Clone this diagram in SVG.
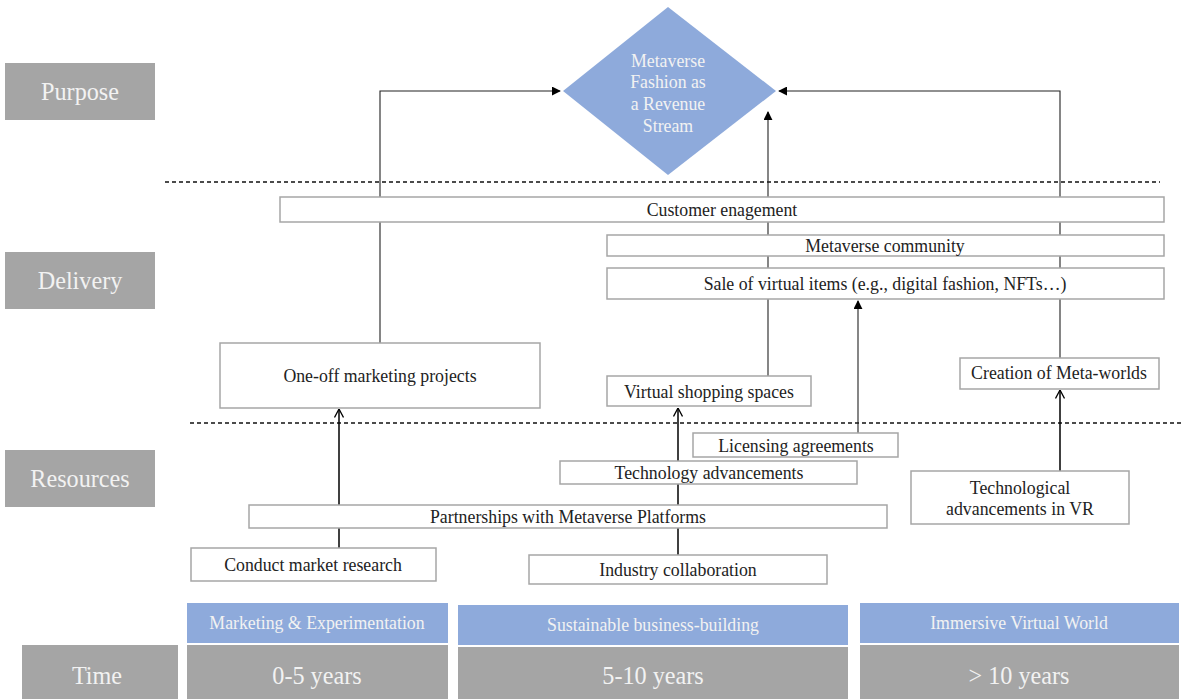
<svg xmlns="http://www.w3.org/2000/svg" width="1182" height="699" viewBox="0 0 1182 699" font-family="'Liberation Serif', 'Times New Roman', 'DejaVu Serif', serif">
<defs>
<marker id="fill" viewBox="0 0 10 10" refX="9" refY="5" markerWidth="9" markerHeight="9" markerUnits="userSpaceOnUse" orient="auto"><path d="M0,0 L10,5 L0,10 z" fill="#000"/></marker>
<marker id="open" viewBox="0 0 10 10" refX="9.5" refY="5" markerWidth="10" markerHeight="10" markerUnits="userSpaceOnUse" orient="auto"><path d="M1,0.5 L9.5,5 L1,9.5" fill="none" stroke="#000" stroke-width="1.3"/></marker>
</defs>
<style>
text{font-family:'Liberation Serif','Times New Roman','DejaVu Serif',serif;text-anchor:middle}
.box{fill:#fff;stroke:#a6a6a6;stroke-width:1.5}
.bt{font-size:17.8px;fill:#222}
.side{fill:#a5a5a5}
.st{font-size:24.2px;fill:#f2f2f2}
.hdr{fill:#8eaadb}
.ht{font-size:17.8px;fill:#f2f2f2}
.dash{stroke:#111;stroke-width:1.3;stroke-dasharray:4,3;fill:none}
.c1{stroke:#222;stroke-width:1.1;fill:none}
.c2{stroke:#000;stroke-width:1.5;fill:none}
</style>
<rect width="1182" height="699" fill="#fff"/>

<g id="rows">
<g id="purpose"><rect class="side" x="5" y="63" width="150" height="57"/><text class="st" x="80" y="100">Purpose</text></g>
<g id="delivery"><rect class="side" x="5" y="252" width="150" height="57"/><text class="st" x="80" y="289">Delivery</text></g>
<g id="resources"><rect class="side" x="5" y="450" width="150" height="57"/><text class="st" x="80" y="487">Resources</text></g>
<g id="time"><rect class="side" x="22" y="645" width="156" height="54"/><text class="st" x="97" y="684">Time</text></g>
</g>

<g id="dividers">
<line class="dash" x1="165" y1="182" x2="1160" y2="182"/>
<line class="dash" x1="190" y1="423" x2="1182" y2="423"/>
</g>

<g id="connectors">
<polyline class="c1" points="380,343 380,91 560,91" marker-end="url(#fill)"/>
<polyline class="c1" points="1060,358 1060,91 779,91" marker-end="url(#fill)"/>
<line class="c1" x1="768" y1="376" x2="768" y2="112" marker-end="url(#fill)"/>
<line class="c1" x1="858" y1="433" x2="858" y2="301" marker-end="url(#fill)"/>
<line class="c2" x1="339" y1="548" x2="339" y2="409" marker-end="url(#open)"/>
<line class="c2" x1="678" y1="555" x2="678" y2="408" marker-end="url(#open)"/>
<line class="c2" x1="1060" y1="471" x2="1060" y2="390" marker-end="url(#open)"/>
</g>

<g id="goal">
<polygon points="668,7 776,91 668,175 563,91" fill="#8eaadb"/>
<text class="ht" x="668" y="67">Metaverse</text>
<text class="ht" x="668" y="88">Fashion as</text>
<text class="ht" x="668" y="110">a Revenue</text>
<text class="ht" x="668" y="132">Stream</text>
</g>

<g id="customer-engagement"><rect class="box" x="280" y="197" width="884" height="25"/>
<text class="bt" x="722" y="216">Customer enagement</text></g>
<g id="metaverse-community"><rect class="box" x="607" y="235" width="557" height="21"/>
<text class="bt" x="885" y="252">Metaverse community</text></g>
<g id="sale-virtual-items"><rect class="box" x="607" y="268" width="557" height="31"/>
<text class="bt" x="885" y="290">Sale of virtual items (e.g., digital fashion, NFTs…)</text></g>
<g id="one-off"><rect class="box" x="220" y="343" width="320" height="65"/>
<text class="bt" x="380" y="382">One-off marketing projects</text></g>
<g id="virtual-shopping"><rect class="box" x="607" y="376" width="204" height="30"/>
<text class="bt" x="709" y="398">Virtual shopping spaces</text></g>
<g id="meta-worlds"><rect class="box" x="960" y="358" width="199" height="31"/>
<text class="bt" x="1059" y="379">Creation of Meta-worlds</text></g>

<g id="licensing"><rect class="box" x="693" y="433" width="205" height="24"/>
<text class="bt" x="796" y="452">Licensing agreements</text></g>
<g id="tech-advancements"><rect class="box" x="560" y="461" width="297" height="23"/>
<text class="bt" x="709" y="479">Technology advancements</text></g>
<g id="partnerships"><rect class="box" x="249" y="505" width="638" height="23"/>
<text class="bt" x="568" y="523">Partnerships with Metaverse Platforms</text></g>
<g id="market-research"><rect class="box" x="191" y="548" width="245" height="33"/>
<text class="bt" x="313" y="571">Conduct market research</text></g>
<g id="industry-collab"><rect class="box" x="529" y="555" width="298" height="29"/>
<text class="bt" x="678" y="576">Industry collaboration</text></g>
<g id="vr-advancements"><rect class="box" x="911" y="471" width="218" height="53"/>
<text class="bt" x="1020" y="494">Technological</text>
<text class="bt" x="1020" y="515">advancements in VR</text></g>

<g id="phase1">
<rect class="hdr" x="187" y="603" width="261" height="40"/><text class="ht" x="317" y="629">Marketing &amp; Experimentation</text>
<rect class="side" x="187" y="645" width="261" height="54"/><text class="st" x="317" y="684">0-5 years</text>
</g>
<g id="phase2">
<rect class="hdr" x="458" y="605" width="390" height="40"/><text class="ht" x="653" y="631">Sustainable business-building</text>
<rect class="side" x="458" y="647" width="390" height="52"/><text class="st" x="653" y="684">5-10 years</text>
</g>
<g id="phase3">
<rect class="hdr" x="860" y="603" width="319" height="40"/><text class="ht" x="1019" y="629">Immersive Virtual World</text>
<rect class="side" x="860" y="645" width="319" height="54"/><text class="st" x="1019" y="684">&gt; 10 years</text>
</g>
</svg>
